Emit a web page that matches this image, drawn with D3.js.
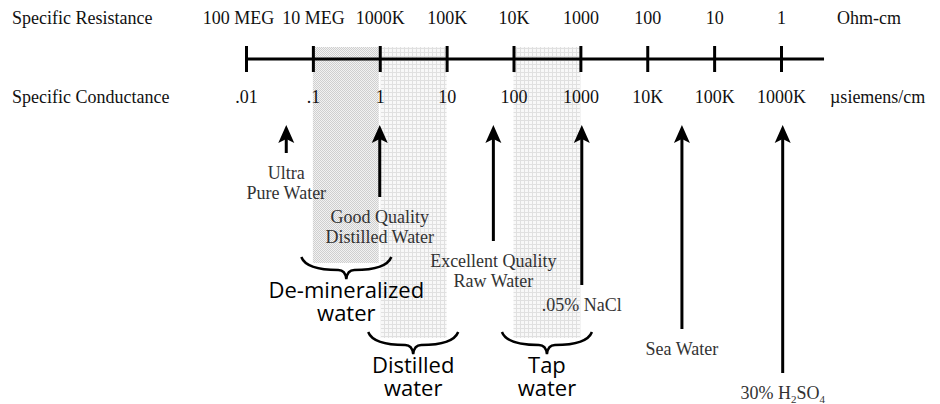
<!DOCTYPE html>
<html>
<head>
<meta charset="utf-8">
<script src="https://cdn.jsdelivr.net/npm/d3@7"></script>
<style>
    body { margin: 0; background: #fff; }
    svg { display: block; }
</style>
</head>
<body>
<div id="graphContainer"></div>
<script>
//scale data: conductance ticks (µS/cm) and matching labels on both sides of the line
var condTicks = [0.01, 0.1, 1, 10, 100, 1000, 1e4, 1e5, 1e6],
    condLabels = [".01", ".1", "1", "10", "100", "1000", "10K", "100K", "1000K"],
    resLabels = ["100 MEG", "10 MEG", "1000K", "100K", "10K", "1000", "100", "10", "1"],
    axisEnd = 4.4e6;

//arrow annotations (conductance value + label lines)
var pointNames = [["Ultra", "Pure Water"], ["Good Quality", "Distilled Water"], ["Excellent Quality", "Raw Water"],
        [".05% NaCl"], ["Sea Water"], ["30% H|2|SO|4"]],
    pointValues = [0.04, 1, 50, 1050, 33000, 1.06e6];

//shaded ranges with a brace + label underneath
var bandNames = [["De-mineralized", "water"], ["Distilled", "water"], ["Tap", "water"]],
    bandFrom = [0.1, 1, 100],
    bandTo = [1, 10, 1000],
    bandLevel = [0, 1, 1];

var width = 940,
    height = 404,
    axisY = 59,
    serif = "'Liberation Serif', 'Times New Roman', serif",
    sans = "'Open Sans', 'Noto Sans', sans-serif";

var svg = d3.select("#graphContainer").append("svg")
    .attr("width", width)
    .attr("height", height);

var x = d3.scaleLog().domain([0.01, 1e6]).range([246, 781]);

//row of an arrow -> y where the arrow shaft stops
var rowY = d3.scaleLinear().domain([0, 5]).range([153, 373]);
//level of a band -> y of the brace top
var levelY = d3.scaleLinear().domain([0, 1]).range([257, 332]);

//textures for the shaded bands
var defs = svg.append("defs");
var dark = defs.append("pattern").attr("id", "darkDots")
    .attr("width", 2).attr("height", 2).attr("patternUnits", "userSpaceOnUse");
dark.append("rect").attr("width", 2).attr("height", 2).attr("fill", "#f2f2f2");
dark.append("rect").attr("width", 1).attr("height", 1).attr("fill", "#cfcfcf");
dark.append("rect").attr("x", 1).attr("y", 1).attr("width", 1).attr("height", 1).attr("fill", "#cfcfcf");

var light = defs.append("pattern").attr("id", "lightGrid")
    .attr("width", 4).attr("height", 4).attr("patternUnits", "userSpaceOnUse");
light.append("rect").attr("width", 4).attr("height", 4).attr("fill", "#f8f8f8");
light.append("rect").attr("width", 4).attr("height", 1).attr("fill", "#e0e0e0");
light.append("rect").attr("width", 1).attr("height", 4).attr("fill", "#e0e0e0");

//bands
svg.append("g").attr("class", "bands")
    .selectAll("rect")
    .data(bandFrom)
    .enter().append("rect")
    .attr("x", function (d, i) { return x(d) + (i == 1 ? 1 : 0); })
    .attr("y", axisY - 12)
    .attr("width", function (d, i) { return x(bandTo[i]) - x(d) - (i == 0 ? 1 : 0) - (i == 1 ? 1 : 0); })
    .attr("height", function (d, i) { return levelY(bandLevel[i]) + 6 - (axisY - 12); })
    .attr("fill", function (d, i) { return i == 0 ? "url(#darkDots)" : "url(#lightGrid)"; });

//main line
svg.append("line")
    .attr("x1", x(0.01)).attr("x2", x(axisEnd))
    .attr("y1", axisY).attr("y2", axisY)
    .attr("stroke", "#000").attr("stroke-width", 3);

//resistance labels above, conductance labels below
var topAxis = svg.append("g").attr("transform", "translate(0," + axisY + ")")
    .call(d3.axisTop(x).tickValues(condTicks)
        .tickFormat(function (d, i) { return resLabels[i]; })
        .tickSize(13).tickPadding(22));
var bottomAxis = svg.append("g").attr("transform", "translate(0," + axisY + ")")
    .call(d3.axisBottom(x).tickValues(condTicks)
        .tickFormat(function (d, i) { return condLabels[i]; })
        .tickSize(13).tickPadding(18));

[topAxis, bottomAxis].forEach(function (a) {
    a.select(".domain").remove();
    a.attr("font-family", serif).attr("font-size", 18);
    a.selectAll(".tick line").attr("stroke", "#000").attr("stroke-width", 3);
    a.selectAll(".tick text").attr("fill", "#111");
});
topAxis.selectAll(".tick text").filter(function (d, i) { return i == 0; }).attr("dx", -8);

//side titles
var titles = [
    {t: "Specific Resistance", x: 12, y: 24},
    {t: "Specific Conductance", x: 12, y: 103},
    {t: "Ohm-cm", x: 837, y: 24},
    {t: "\u00b5siemens/cm", x: 830, y: 103}
];
svg.append("g").selectAll("text")
    .data(titles)
    .enter().append("text")
    .attr("x", function (d) { return d.x; })
    .attr("y", function (d) { return d.y; })
    .attr("font-family", serif).attr("font-size", 18).attr("fill", "#111")
    .text(function (d) { return d.t; });

//arrows
var arrows = svg.append("g").attr("class", "arrows")
    .selectAll("g")
    .data(pointValues)
    .enter().append("g")
    .attr("transform", function (d) { return "translate(" + x(d) + ",0)"; });

arrows.append("line")
    .attr("x1", 0).attr("x2", 0)
    .attr("y1", 135)
    .attr("y2", function (d, i) { return rowY(i); })
    .attr("stroke", "#000").attr("stroke-width", 3);

arrows.append("path")
    .attr("d", "M0,125 L-8,143 L0,139 L8,143 Z")
    .attr("fill", "#000");

//arrow labels, "|" switches in and out of subscript
var labels = arrows.append("text")
    .attr("text-anchor", "middle")
    .attr("font-family", serif).attr("font-size", 18).attr("fill", "#333");

labels.each(function (d, i) {
    var el = d3.select(this);
    pointNames[i].forEach(function (line, j) {
        var ts = el.append("tspan").attr("x", 0).attr("y", rowY(i) + 26 + j * 20);
        line.split("|").forEach(function (part, k) {
            var p = ts.append("tspan").text(part);
            if (k % 2 == 1) p.attr("font-size", 11).attr("dy", 4);
            else if (k > 0) p.attr("dy", -4);
        });
    });
});

//braces + band labels
var braces = svg.append("g").attr("class", "braces")
    .selectAll("g")
    .data(bandFrom)
    .enter().append("g")
    .attr("transform", function (d, i) {
        var cx = (x(d) + x(bandTo[i])) / 2;
        return "translate(" + cx + "," + levelY(bandLevel[i]) + ")";
    });

braces.append("path")
    .attr("d", "M-45,0 Q-40,13 -8,13 Q-1,13 0,22 Q1,13 8,13 Q40,13 45,0")
    .attr("fill", "none")
    .attr("stroke", "#000").attr("stroke-width", 2.5);

braces.append("text")
    .attr("text-anchor", "middle")
    .attr("font-family", sans).attr("font-size", 22).attr("fill", "#000")
    .each(function (d, i) {
        var el = d3.select(this);
        bandNames[i].forEach(function (line, j) {
            el.append("tspan").attr("x", 0).attr("y", 41 + j * 23).text(line);
        });
    });
</script>
</body>
</html>
